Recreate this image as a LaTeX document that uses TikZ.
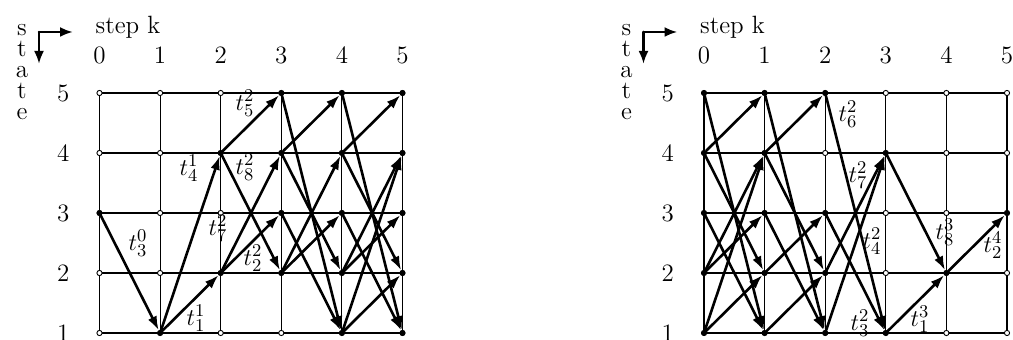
\documentclass[tikz,border=0pt]{standalone}
\usetikzlibrary{arrows.meta}
\tikzset{
  every picture/.style={line cap=round, line join=round},
  every node/.style={font=\fontsize{12.5}{15}\selectfont},
  % Gitter und Zustandspunkte
  gridline/.style={line width=0.55pt},
  free/.style={circle, draw, fill=white, line width=0.45pt, inner sep=0pt, minimum size=2.6pt},
  % Übergänge
  trans/.style={line width=1.3pt, -{Latex[length=7pt,width=4.8pt]}},
  turn/.style={line width=1.3pt, -{Latex[length=6.5pt,width=5pt]}},
  lbl/.style={inner sep=0pt},
}

\begin{document}
\begin{tikzpicture}[x=0.5pt, y=-0.5pt]
  \useasboundingbox (0,0) rectangle (1013,340);
  % Rahmen beider Diagramme: Achsbeschriftung, Gitter, Zustandspunkte
  \foreach \p/\dx in {L/0, R/604.5} {
    \begin{scope}[shift={(\dx,0)}]
      \foreach \c [count=\i] in {s,t,a,t,e}
        \node[anchor=base] (\p-st-\i) at (22, 15+21*\i) {\c};
      \coordinate (\p-corner) at (39,32);
      \draw[turn] (\p-corner) -- (73,32);
      \draw[turn] (\p-corner) -- (39,64);
      \node (\p-step) at (128,27) {step k};
    \end{scope}
    \begin{scope}[shift={(99.5+\dx,333)}, x=30.3pt, y=30pt]
      \foreach \k in {0,...,5}
        \draw[gridline] (\k,0) -- (\k,4);
      \foreach \s in {0,...,4}
        \draw[gridline] (0,\s) -- (5,\s);
      \foreach \k in {0,...,5}
        \node (\p-col-\k) at (\k,4.63) {\k};
      \foreach \s in {1,...,5}
        \node (\p-row-\s) at (-0.6,\s-1) {\s};
      \foreach \k in {0,...,5}
        \foreach \s in {1,...,5}
          \node[free] (\p-\k-\s) at (\k,\s-1) {};
    \end{scope}
  }
  % Übergänge links (vorwärts von Zustand 3)
  \foreach \k/\a/\b [evaluate=\k as \n using int(\k+1)] in {0/3/1, 1/1/2, 1/1/4,
      2/2/3, 2/2/4, 2/4/5, 2/4/2, 3/2/3, 3/2/4, 3/3/1, 3/4/5, 3/4/2, 3/5/1,
      4/1/2, 4/1/4, 4/2/3, 4/2/4, 4/3/1, 4/4/5, 4/4/2, 4/5/1}
    \draw[trans] (L-\k-\a) -- (L-\n-\b);
  % Übergänge rechts (rückwärts zu Zustand 3)
  \foreach \k/\a/\b [evaluate=\k as \n using int(\k+1)] in {0/3/1, 0/5/1, 0/1/2,
      0/4/2, 0/2/3, 0/1/4, 0/2/4, 0/4/5, 1/3/1, 1/5/1, 1/1/2, 1/4/2, 1/2/3, 1/4/5,
      2/3/1, 2/5/1, 2/1/4, 2/2/4, 3/1/2, 3/4/2, 4/2/3}
    \draw[trans] (R-\k-\a) -- (R-\n-\b);
  % erreichte Zustände
  \foreach \k/\set in {0/{3}, 1/{1}, 2/{2,4}, 3/{2,3,4,5}, 4/{1,2,3,4,5}, 5/{1,2,3,4,5}}
    \foreach \s in \set \fill (L-\k-\s) circle[radius=1.4pt];
  \foreach \k/\set in {0/{1,2,3,4,5}, 1/{1,2,3,4,5}, 2/{1,2,3,5}, 3/{1,4}, 4/{2}, 5/{3}}
    \foreach \s in \set \fill (R-\k-\s) circle[radius=1.4pt];
  % Beschriftung der Übergänge
  \node[lbl] (L-t30) at (138,243) {$t_3^0$};
  \node[lbl] (L-t11) at (196,318) {$t_1^1$};
  \node[lbl] (L-t41) at (189,168) {$t_4^1$};
  \node[lbl] (L-t52) at (245,103) {$t_5^2$};
  \node[lbl] (L-t82) at (245,167) {$t_8^2$};
  \node[lbl] (L-t72) at (218,228) {$t_7^2$};
  \node[lbl] (L-t22) at (253,258) {$t_2^2$};
  \node[lbl] (R-t62) at (848,114) {$t_6^2$};
  \node[lbl] (R-t72) at (858,175) {$t_7^2$};
  \node[lbl] (R-t42) at (872,241) {$t_4^2$};
  \node[lbl] (R-t32) at (860,323) {$t_3^2$};
  \node[lbl] (R-t13) at (920,319) {$t_1^3$};
  \node[lbl] (R-t83) at (945,232) {$t_8^3$};
  \node[lbl] (R-t24) at (993,245) {$t_2^4$};
\end{tikzpicture}
\end{document}
